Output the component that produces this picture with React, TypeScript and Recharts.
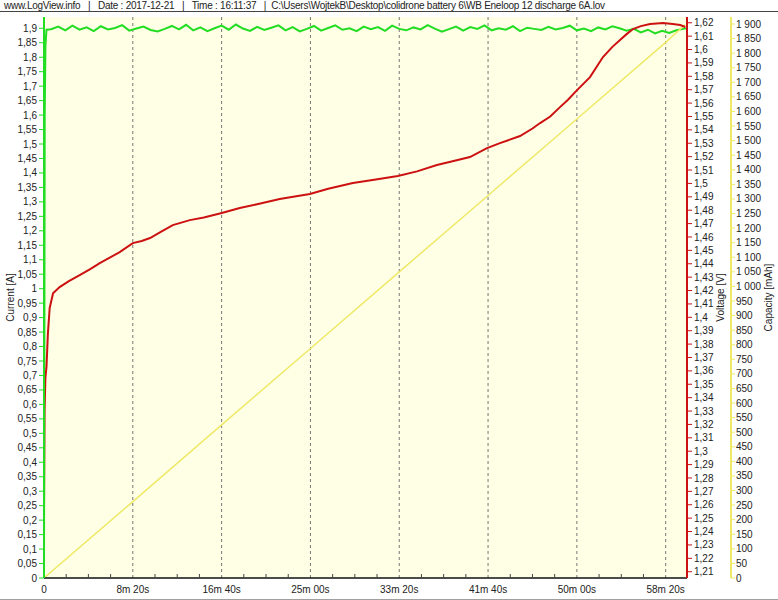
import React from 'react';
import {
  ComposedChart,
  Line,
  XAxis,
  YAxis,
  CartesianGrid,
  ReferenceLine,
  Label,
} from 'recharts';

// time axis (seconds)
const timeTicks = [
  0, 125, 250, 375, 500, 625, 750, 875, 1000, 1125, 1250, 1375, 1500, 1625, 1750, 1875,
  2000, 2125, 2250, 2375, 2500, 2625, 2750, 2875, 3000, 3125, 3250, 3375, 3500,
];
const majorTimes = [0, 500, 1000, 1500, 2000, 2500, 3000, 3500];
const majorLabels = ['0', '8m 20s', '16m 40s', '25m 00s', '33m 20s', '41m 40s', '50m 00s', '58m 20s'];

const currentTicks = [
  0, 0.05, 0.1, 0.15, 0.2, 0.25, 0.3, 0.35, 0.4, 0.45, 0.5, 0.55, 0.6, 0.65, 0.7, 0.75, 0.8,
  0.85, 0.9, 0.95, 1, 1.05, 1.1, 1.15, 1.2, 1.25, 1.3, 1.35, 1.4, 1.45, 1.5, 1.55, 1.6, 1.65,
  1.7, 1.75, 1.8, 1.85, 1.9,
];
const voltageTicks = [
  1.21, 1.22, 1.23, 1.24, 1.25, 1.26, 1.27, 1.28, 1.29, 1.3, 1.31, 1.32, 1.33, 1.34, 1.35,
  1.36, 1.37, 1.38, 1.39, 1.4, 1.41, 1.42, 1.43, 1.44, 1.45, 1.46, 1.47, 1.48, 1.49, 1.5,
  1.51, 1.52, 1.53, 1.54, 1.55, 1.56, 1.57, 1.58, 1.59, 1.6, 1.61, 1.62,
];
const capacityTicks = [
  0, 50, 100, 150, 200, 250, 300, 350, 400, 450, 500, 550, 600, 650, 700, 750, 800, 850, 900,
  950, 1000, 1050, 1100, 1150, 1200, 1250, 1300, 1350, 1400, 1450, 1500, 1550, 1600, 1650,
  1700, 1750, 1800, 1850, 1900,
];

// current [A]
const currentTimes = [
  0, 4, 8, 14, 40, 80, 120, 160, 200, 240, 280, 320, 360, 400, 440, 480, 520, 560, 600, 640,
  680, 720, 760, 800, 840, 880, 920, 960, 1000, 1040, 1080, 1120, 1160, 1200, 1240, 1280,
  1320, 1360, 1400, 1440, 1480, 1520, 1560, 1600, 1640, 1680, 1720, 1760, 1800, 1840, 1880,
  1920, 1960, 2000, 2040, 2080, 2120, 2160, 2200, 2240, 2280, 2320, 2360, 2400, 2440, 2480,
  2520, 2560, 2600, 2640, 2680, 2720, 2760, 2800, 2840, 2880, 2920, 2960, 3000, 3040, 3080,
  3120, 3160, 3200, 3240, 3280, 3320, 3360, 3400, 3440, 3480, 3520, 3560, 3600, 3615,
];
const currentValues = [
  0, 1.6, 1.84, 1.895,
  1.897, 1.906, 1.893, 1.909, 1.895, 1.903, 1.89, 1.907, 1.896, 1.901,
  1.911, 1.892, 1.899, 1.906, 1.894, 1.889, 1.898, 1.908, 1.896, 1.912,
  1.893, 1.903, 1.89, 1.9, 1.909, 1.895, 1.913, 1.899, 1.891, 1.905,
  1.894, 1.902, 1.91, 1.893, 1.904, 1.889, 1.898, 1.908, 1.892, 1.901,
  1.91, 1.895, 1.9, 1.89, 1.906, 1.897, 1.904, 1.891, 1.909, 1.898,
  1.893, 1.903, 1.896, 1.911, 1.899, 1.888, 1.897, 1.906, 1.892, 1.904,
  1.898, 1.91, 1.893, 1.9, 1.895, 1.907, 1.89, 1.902, 1.898, 1.894,
  1.905, 1.896, 1.901, 1.909, 1.893, 1.899, 1.89, 1.903, 1.896, 1.907,
  1.9, 1.892, 1.898, 1.886, 1.895, 1.882, 1.891, 1.884, 1.893, 1.898,
  1.9,
];

// voltage [V]
const voltageTimes = [
  0, 3, 8, 14, 22, 32, 51, 88, 140, 201, 260, 314, 370, 426, 500, 550, 597, 660, 725, 821,
  900, 1001, 1102, 1200, 1327, 1420, 1497, 1600, 1739, 1850, 1992, 2100, 2212, 2300, 2398,
  2494, 2567, 2680, 2750, 2793, 2850, 2905, 2950, 3001, 3074, 3147, 3200, 3243, 3280, 3316,
  3360, 3412, 3486, 3540, 3582, 3610,
];
const voltageValues = [
  1.256, 1.33, 1.355, 1.363, 1.388, 1.407, 1.418, 1.4226, 1.427, 1.4315, 1.436, 1.4405,
  1.4445, 1.4487, 1.4554, 1.457, 1.4592, 1.464, 1.4689, 1.4726, 1.4745, 1.4779, 1.4816,
  1.4845, 1.4883, 1.4905, 1.4921, 1.496, 1.5003, 1.5025, 1.5055, 1.509, 1.5137, 1.5165,
  1.5197, 1.5264, 1.5301, 1.5354, 1.541, 1.5451, 1.55, 1.557, 1.5625, 1.5697, 1.5794,
  1.5944, 1.602, 1.6071, 1.6115, 1.6153, 1.6175, 1.619, 1.6198, 1.619, 1.6183, 1.6168,
];

// capacity [mAh]
const capacityTimes = [0, 500, 1000, 1500, 2000, 2500, 3000, 3500, 3610];
const capacityValues = [0, 262, 525, 787, 1050, 1312, 1574, 1837, 1898];

const currentData = currentTimes.map((t, i) => ({ t, v: currentValues[i] }));
const voltageData = voltageTimes.map((t, i) => ({ t, v: voltageValues[i] }));
const capacityData = capacityTimes.map((t, i) => ({ t, v: capacityValues[i] }));

const FONT = "'Liberation Sans Narrow', 'Liberation Sans', Arial, sans-serif";
const GREEN = '#22dd22';
const RED = '#cc1111';
const YELLOW = '#efe968';

const fmtDec = (v: number) => String(Number(v.toFixed(2))).replace('.', ',');
const fmtCap = (v: number) =>
  v >= 1000 ? `${Math.floor(v / 1000)} ${String(v % 1000).padStart(3, '0')}` : String(v);

const TimeTick = (props: any) => {
  const { x, y, payload } = props;
  const idx = majorTimes.indexOf(payload.value);
  return (
    <g>
      {idx < 0 && <line x1={x} x2={x} y1={y - 4} y2={y} stroke="#444" />}
      {idx >= 0 && (
        <text x={x} y={y + 15} textAnchor="middle" fontSize={10} fill="#222" fontFamily={FONT}>
          {majorLabels[idx]}
        </text>
      )}
    </g>
  );
};

const axisTitle = (text: string, dx: number) => (props: any) => {
  const vb = props.viewBox || {};
  const cx = vb.x + dx;
  const cy = vb.y + vb.height / 2;
  return (
    <text
      x={cx}
      y={cy}
      transform={`rotate(-90 ${cx} ${cy})`}
      textAnchor="middle"
      dominantBaseline="central"
      fontSize={10}
      fill="#222"
      fontFamily={FONT}
    >
      {text}
    </text>
  );
};

const tickStyle = { fontSize: 10, fill: '#222', fontFamily: FONT };

export default function App() {
  return (
    <div
      style={{
        position: 'absolute',
        left: 0,
        top: 0,
        width: 778,
        height: 600,
        background: '#fff',
        boxSizing: 'border-box',
        borderBottom: '1px solid #a0a0a0',
      }}
    >
      <div
        style={{
          position: 'absolute',
          left: 0,
          top: 0,
          width: 778,
          height: 12,
          borderBottom: '1px solid #444',
          fontFamily: "'Liberation Sans', Arial, sans-serif",
          fontSize: 10,
          lineHeight: '12px',
          color: '#222',
          whiteSpace: 'pre',
          paddingLeft: 4,
          letterSpacing: -0.25,
          boxSizing: 'border-box',
        }}
      >
        {'www.LogView.info   |   Date : 2017-12-21   |   Time : 16:11:37   |  C:\\Users\\WojtekB\\Desktop\\colidrone battery 6\\WB Eneloop 12 discharge 6A.lov'}
      </div>
      <ComposedChart width={778} height={600} margin={{ top: 17, right: 0, bottom: 0, left: 0 }}>
        <CartesianGrid horizontal={false} vertical={false} fill="#ffffe6" stroke="none" />
        <XAxis
          type="number"
          dataKey="t"
          domain={[0, 3620]}
          ticks={timeTicks}
          interval={0}
          allowDataOverflow
          tick={<TimeTick />}
          tickLine={false}
          tickSize={0}
          tickMargin={0}
          height={22}
          axisLine={{ stroke: '#111', strokeWidth: 1.5 }}
        />
        <XAxis
          xAxisId="top"
          orientation="top"
          type="number"
          domain={[0, 3620]}
          height={0}
          tick={false}
          tickLine={false}
          axisLine={{ stroke: '#555', strokeWidth: 1.5 }}
        />
        <YAxis
          yAxisId="a1current"
          orientation="left"
          type="number"
          domain={[0, 1.939]}
          allowDataOverflow
          ticks={currentTicks}
          interval={0}
          width={44}
          tickSize={5}
          tickMargin={2}
          tick={tickStyle}
          tickFormatter={fmtDec}
          tickLine={{ stroke: GREEN }}
          axisLine={{ stroke: GREEN, strokeWidth: 2 }}
        >
          <Label content={axisTitle('Current [A]', 10)} />
        </YAxis>
        <YAxis
          yAxisId="r1voltage"
          orientation="right"
          type="number"
          domain={[1.2053, 1.6243]}
          allowDataOverflow
          ticks={voltageTicks}
          interval={0}
          width={44}
          tickSize={5}
          tickMargin={2}
          tick={tickStyle}
          tickFormatter={fmtDec}
          tickLine={{ stroke: RED }}
          axisLine={{ stroke: RED, strokeWidth: 2 }}
        >
          <Label content={axisTitle('Voltage [V]', 33)} />
        </YAxis>
        <YAxis
          yAxisId="r2capacity"
          orientation="right"
          type="number"
          domain={[0, 1924]}
          allowDataOverflow
          ticks={capacityTicks}
          interval={0}
          width={47}
          tickSize={4}
          tickMargin={1}
          tick={tickStyle}
          tickFormatter={fmtCap}
          tickLine={{ stroke: YELLOW }}
          axisLine={{ stroke: YELLOW, strokeWidth: 2 }}
        >
          <Label content={axisTitle('Capacity [mAh]', 37)} />
        </YAxis>
        {majorTimes.slice(1).map((t) => (
          <ReferenceLine
            key={t}
            x={t}
            yAxisId="a1current"
            stroke="#777"
            strokeDasharray="3 3"
          />
        ))}
        <Line
          data={currentData}
          dataKey="v"
          yAxisId="a1current"
          type="linear"
          stroke={GREEN}
          strokeWidth={2}
          dot={false}
          isAnimationActive={false}
        />
        <Line
          data={capacityData}
          dataKey="v"
          yAxisId="r2capacity"
          type="linear"
          stroke={YELLOW}
          strokeWidth={1.5}
          dot={false}
          isAnimationActive={false}
        />
        <Line
          data={voltageData}
          dataKey="v"
          yAxisId="r1voltage"
          type="linear"
          stroke={RED}
          strokeWidth={2}
          dot={false}
          isAnimationActive={false}
        />
      </ComposedChart>
    </div>
  );
}
